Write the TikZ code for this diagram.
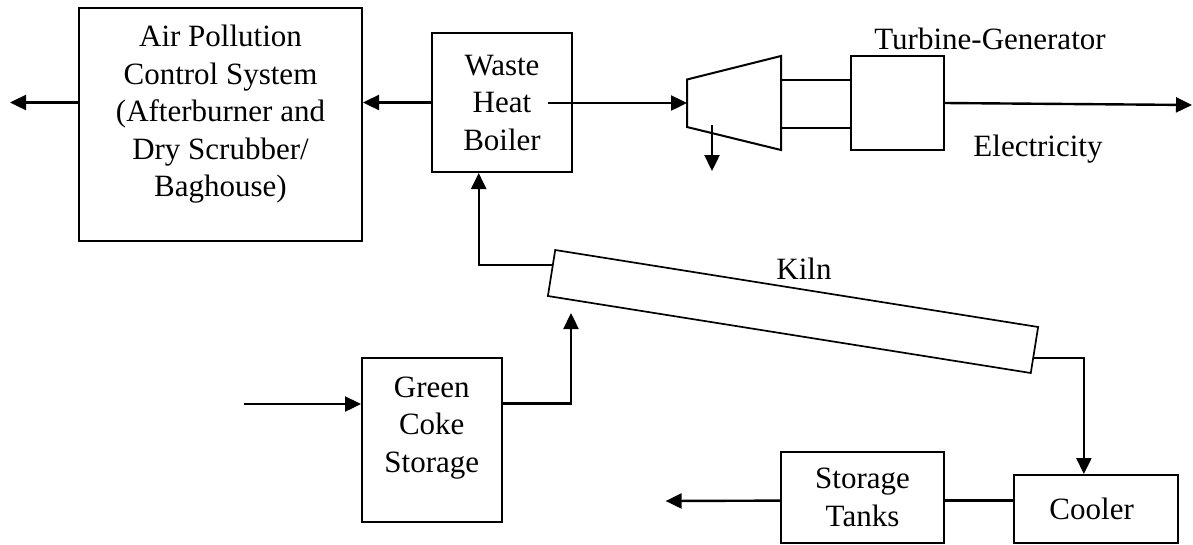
\documentclass[tikz,border=0pt]{standalone}
\usepackage{fontspec}
\setmainfont{Liberation Serif}
\usetikzlibrary{arrows.meta, calc}

\begin{document}
\begin{tikzpicture}[
    x=1pt,
    y=-1pt,
    blockbox/.style={
        rectangle,
        draw=black,
        line width=2pt,
        fill=white,
        inner sep=0pt,
        align=center,
        font=\fontsize{31}{37.5}\selectfont
    },
    kilnbox/.style={
        rectangle,
        draw=black,
        line width=1.7pt,
        fill=white,
        inner sep=0pt
    },
    labeltext/.style={
        inner sep=0pt,
        align=center,
        font=\fontsize{31}{37.5}\selectfont
    },
    boxline/.style={
        draw=black,
        line width=2pt
    },
    flowline/.style={
        draw=black,
        line width=2.4pt
    },
    flowarrow/.style={
        flowline,
        -{Triangle[length=16pt,width=15pt]}
    }
]
\useasboundingbox (0,0) rectangle (1193,544);
% -------------------------------------------------------------
% AIR POLLUTION CONTROL
% -------------------------------------------------------------
\node[blockbox, minimum width=283pt, minimum height=233pt] (apc) at (220.5,124.5) {};
\node[labeltext] (apcText) at (220.5,114.5)
{
    Air Pollution\\
    Control System\\
    (Afterburner and\\
    Dry Scrubber/\\
    Baghouse)
};
% -------------------------------------------------------------
% WASTE HEAT BOILER
% -------------------------------------------------------------
\node[blockbox, minimum width=140pt, minimum height=139pt] (whb) at (502,102.5)
{
    Waste\\
    Heat\\
    Boiler
};
% -------------------------------------------------------------
% TURBINE-GENERATOR
% -------------------------------------------------------------
\coordinate (turbA) at (687,79.5);
\coordinate (turbB) at (781,56);
\coordinate (turbC) at (781,150);
\coordinate (turbD) at (687,127);
\draw[boxline] (turbA) -- (turbB) -- (turbC) -- (turbD) -- cycle;
\node[blockbox, minimum width=93pt, minimum height=94pt] (gen) at (897.5,103) {};
\coordinate (shaftTop) at (781,80);
\coordinate (shaftBot) at (781,127.5);
\draw[boxline] (shaftTop) -- (shaftTop -| gen.west);
\draw[boxline] (shaftBot) -- (shaftBot -| gen.west);
\node[labeltext, anchor=base] (genLabel) at (990,49) {Turbine-Generator};
\node[labeltext, anchor=base] (powerLabel) at (1038,156) {Electricity};
% -------------------------------------------------------------
% KILN
% -------------------------------------------------------------
\node[kilnbox, minimum width=489pt, minimum height=46.6pt, rotate=-9.06] (kiln) at (793,311.5) {};
\node[labeltext, anchor=base] (kilnLabel) at (804,279) {Kiln};
% -------------------------------------------------------------
% GREEN COKE STORAGE
% -------------------------------------------------------------
\node[blockbox, minimum width=139.5pt, minimum height=164pt] (green) at (431.75,440) {};
\node[labeltext] (greenText) at (431.75,428)
{
    Green\\
    Coke\\
    Storage
};
% -------------------------------------------------------------
% STORAGE TANKS AND COOLER
% -------------------------------------------------------------
\node[blockbox, minimum width=163pt, minimum height=91pt] (storage) at (862.5,497.5)
{
    Storage\\
    Tanks
};
\node[blockbox, minimum width=164pt, minimum height=68pt] (cooler) at (1095.5,509)
{
    Cooler
};
% -------------------------------------------------------------
% CONNECTORS
% -------------------------------------------------------------
\coordinate (stackOut) at (10,102.5);
\coordinate (heatOut) at (548,103);
\coordinate (turbIn) at (687,103);
\coordinate (turbExit) at (712,125);
\coordinate (turbDrain) at (712,171);
\coordinate (powerOut) at (1192,105);
\coordinate (kilnGas) at ($(kiln.north west)!0.33!(kiln.south west)$);
\coordinate (kilnFeed) at (571,313);
\coordinate (kilnOut) at ($(kiln.north east)!0.67!(kiln.south east)$);
\coordinate (cokeIn) at (243.5,404);
\coordinate (greenOut) at ($(green.north east)!0.28!(green.south east)$);
\coordinate (coolLink) at ($(cooler.north west)!0.38!(cooler.south west)$);
\coordinate (productOut) at (665.6,501);

\draw[flowarrow] (whb.west) -- (whb.west -| apc.east);
\draw[flowarrow] (stackOut -| apc.west) -- (stackOut);
\draw[flowarrow] (heatOut) -- (turbIn);
\draw[flowarrow] (turbExit) -- (turbDrain);
\draw[flowarrow] (gen.east) -- (powerOut);
\draw[flowarrow] (kilnGas) -| ($(whb.south west)!0.336!(whb.south east)$);
\draw[flowarrow] (cokeIn) -- (cokeIn -| green.west);
\draw[flowarrow] (greenOut) -| (kilnFeed);
\draw[flowarrow] (kilnOut) -| ($(cooler.north west)!0.43!(cooler.north east)$);
\draw[flowline] (coolLink) -- (coolLink -| storage.east);
\draw[flowarrow] (coolLink -| storage.west) -- (productOut);
\end{tikzpicture}
\end{document}
